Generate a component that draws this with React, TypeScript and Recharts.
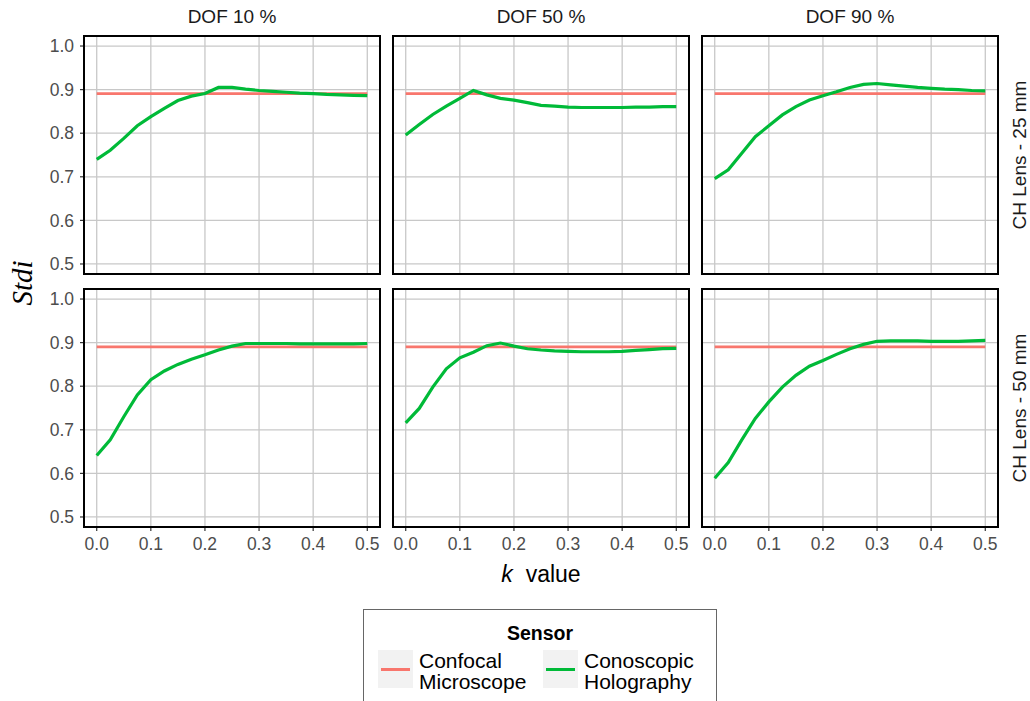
import { LineChart, Line, XAxis, YAxis, CartesianGrid } from "recharts";

const K_VALUES = [
  0, 0.025, 0.05, 0.075, 0.1, 0.125, 0.15, 0.175, 0.2, 0.225, 0.25, 0.275, 0.3,
  0.325, 0.35, 0.375, 0.4, 0.425, 0.45, 0.475, 0.5,
];
const DOF_LABELS = ["DOF 10 %", "DOF 50 %", "DOF 90 %"];
const LENS_LABELS = ["CH Lens - 25 mm", "CH Lens - 50 mm"];
const SENSORS = ["Confocal\nMicroscope", "Conoscopic\nHolography"];
const X_TICKS = [0, 0.1, 0.2, 0.3, 0.4, 0.5];
const Y_TICKS = [0.5, 0.6, 0.7, 0.8, 0.9, 1.0];

// confocal microscope is flat, one value per lens row
const CONFOCAL = [0.891, 0.89];

// conoscopic holography, lens 25 mm
const CH25_DOF10 = [0.74, 0.761, 0.788, 0.817, 0.838, 0.857, 0.875, 0.885, 0.891, 0.905, 0.905, 0.901, 0.898, 0.896, 0.894, 0.892, 0.891, 0.889, 0.888, 0.887, 0.886];
const CH25_DOF50 = [0.796, 0.82, 0.843, 0.862, 0.88, 0.898, 0.888, 0.88, 0.876, 0.87, 0.864, 0.862, 0.86, 0.859, 0.859, 0.859, 0.859, 0.86, 0.86, 0.861, 0.861];
const CH25_DOF90 = [0.696, 0.716, 0.754, 0.792, 0.817, 0.842, 0.861, 0.876, 0.886, 0.895, 0.905, 0.912, 0.914, 0.911, 0.908, 0.905, 0.903, 0.901, 0.9, 0.898, 0.897];
// conoscopic holography, lens 50 mm
const CH50_DOF10 = [0.641, 0.677, 0.73, 0.78, 0.815, 0.835, 0.85, 0.862, 0.872, 0.883, 0.892, 0.898, 0.898, 0.898, 0.898, 0.897, 0.897, 0.897, 0.897, 0.897, 0.898];
const CH50_DOF50 = [0.716, 0.749, 0.798, 0.84, 0.865, 0.878, 0.893, 0.899, 0.892, 0.886, 0.883, 0.881, 0.88, 0.879, 0.879, 0.879, 0.88, 0.882, 0.884, 0.886, 0.887];
const CH50_DOF90 = [0.589, 0.625, 0.677, 0.726, 0.764, 0.798, 0.825, 0.846, 0.859, 0.873, 0.886, 0.896, 0.903, 0.904, 0.904, 0.904, 0.903, 0.903, 0.903, 0.904, 0.905];

const GRID = [
  [CH25_DOF10, CH25_DOF50, CH25_DOF90],
  [CH50_DOF10, CH50_DOF50, CH50_DOF90],
];

const RED = "#F8766D";
const GREEN = "#00BA38";
const FONT = "'Liberation Sans', Arial, sans-serif";

const PANEL_X = [84, 393, 702];
const PANEL_Y = [36, 289];
const PANEL_W = 296;
const PANEL_H = 238;
const AXIS_W = 50;
const PAD_TOP = 10;
const PAD_RIGHT = 10;
const AXIS_H = 40;

// keeps ticks (and so the grid) but draws nothing
const NoTick = () => <g />;
const tickStyle = { fill: "#4d4d4d", fontSize: 17.5, fontFamily: FONT };

function Panel({ row, col }: { row: number; col: number }) {
  const values = GRID[row][col];
  const data = K_VALUES.map((k, i) => ({
    k,
    confocal: CONFOCAL[row],
    conoscopic: values[i],
  }));
  const showY = col === 0;
  const showX = row === 1;

  return (
    <div
      style={{
        position: "absolute",
        left: PANEL_X[col] - AXIS_W,
        top: PANEL_Y[row] - PAD_TOP,
      }}
    >
      <LineChart
        width={PANEL_W + AXIS_W + PAD_RIGHT}
        height={PANEL_H + PAD_TOP + AXIS_H}
        data={data}
        margin={{ top: PAD_TOP, right: PAD_RIGHT, left: 0, bottom: 0 }}
      >
        <CartesianGrid stroke="#c8c8c8" strokeWidth={1.3} />
        <XAxis
          dataKey="k"
          type="number"
          domain={[-0.0235, 0.5235]}
          ticks={X_TICKS}
          allowDataOverflow
          height={AXIS_H}
          axisLine={false}
          tickLine={showX ? { stroke: "#333", strokeWidth: 1.2 } : false}
          tickSize={4}
          tickMargin={7}
          tick={showX ? tickStyle : NoTick}
          tickFormatter={(v: number) => v.toFixed(1)}
        />
        <YAxis
          type="number"
          domain={[0.477, 1.023]}
          ticks={Y_TICKS}
          allowDataOverflow
          width={AXIS_W}
          axisLine={false}
          tickLine={showY ? { stroke: "#333", strokeWidth: 1.2 } : false}
          tickSize={4}
          tickMargin={6}
          tick={showY ? tickStyle : NoTick}
          tickFormatter={(v: number) => v.toFixed(1)}
        />
        <Line
          dataKey="confocal"
          stroke={RED}
          strokeWidth={2.8}
          dot={false}
          isAnimationActive={false}
        />
        <Line
          dataKey="conoscopic"
          stroke={GREEN}
          strokeWidth={3.2}
          dot={false}
          isAnimationActive={false}
        />
      </LineChart>
    </div>
  );
}

export default function App() {
  return (
    <div
      style={{
        position: "absolute",
        left: 0,
        top: 0,
        width: 1030,
        height: 701,
        overflow: "hidden",
        background: "#fff",
        fontFamily: FONT,
      }}
    >
      {[0, 1].map((r) =>
        [0, 1, 2].map((c) => <Panel key={`${r}-${c}`} row={r} col={c} />)
      )}

      {/* panel borders */}
      {[0, 1].map((r) =>
        [0, 1, 2].map((c) => (
          <div
            key={`b-${r}-${c}`}
            style={{
              position: "absolute",
              left: PANEL_X[c] - 1,
              top: PANEL_Y[r] - 1,
              width: PANEL_W + 2,
              height: PANEL_H + 2,
              border: "2px solid #000",
              boxSizing: "border-box",
            }}
          />
        ))
      )}

      {/* strip labels */}
      {DOF_LABELS.map((t, c) => (
        <div
          key={t}
          style={{
            position: "absolute",
            left: PANEL_X[c],
            width: PANEL_W,
            top: 7,
            textAlign: "center",
            fontSize: 19,
            lineHeight: "19px",
            color: "#1a1a1a",
          }}
        >
          {t}
        </div>
      ))}
      {LENS_LABELS.map((t, r) => (
        <div
          key={t}
          style={{
            position: "absolute",
            left: 1019,
            top: PANEL_Y[r] + PANEL_H / 2,
            transform: "translate(-50%, -50%) rotate(-90deg)",
            whiteSpace: "nowrap",
            fontSize: 19,
            lineHeight: "19px",
            color: "#1a1a1a",
          }}
        >
          {t}
        </div>
      ))}

      {/* axis titles */}
      <div
        style={{
          position: "absolute",
          left: 22,
          top: 283,
          transform: "translate(-50%, -50%) rotate(-90deg)",
          fontFamily: "'Liberation Serif', 'DejaVu Serif', serif",
          fontStyle: "italic",
          fontSize: 29,
          color: "#000",
          whiteSpace: "nowrap",
        }}
      >
        Stdi
      </div>
      <div
        style={{
          position: "absolute",
          left: PANEL_X[1],
          width: PANEL_W,
          top: 563,
          textAlign: "center",
          fontSize: 23,
          lineHeight: "23px",
          color: "#000",
          whiteSpace: "pre",
        }}
      >
        <i>k</i>{"  value"}
      </div>

      {/* legend */}
      <div
        style={{
          position: "absolute",
          left: 363,
          top: 609,
          width: 354,
          height: 110,
          border: "1px solid #666",
          boxSizing: "border-box",
        }}
      >
        <div
          style={{
            position: "absolute",
            left: 0,
            right: 0,
            top: 13,
            textAlign: "center",
            fontWeight: "bold",
            fontSize: 19.5,
            lineHeight: "20px",
            color: "#000",
          }}
        >
          Sensor
        </div>
        {SENSORS.map((s, i) => (
          <div key={s} style={{ position: "absolute", left: 14 + i * 165, top: 40 }}>
            <div
              style={{
                position: "absolute",
                left: 0,
                top: 0,
                width: 35,
                height: 38,
                background: "#f2f2f2",
              }}
            >
              <div
                style={{
                  position: "absolute",
                  left: 3,
                  right: 3,
                  top: 18,
                  height: 3,
                  background: i === 0 ? RED : GREEN,
                }}
              />
            </div>
            <div
              style={{
                position: "absolute",
                left: 41,
                top: 0,
                fontSize: 21,
                lineHeight: "21px",
                whiteSpace: "pre",
                color: "#000",
              }}
            >
              {s}
            </div>
          </div>
        ))}
      </div>
    </div>
  );
}
